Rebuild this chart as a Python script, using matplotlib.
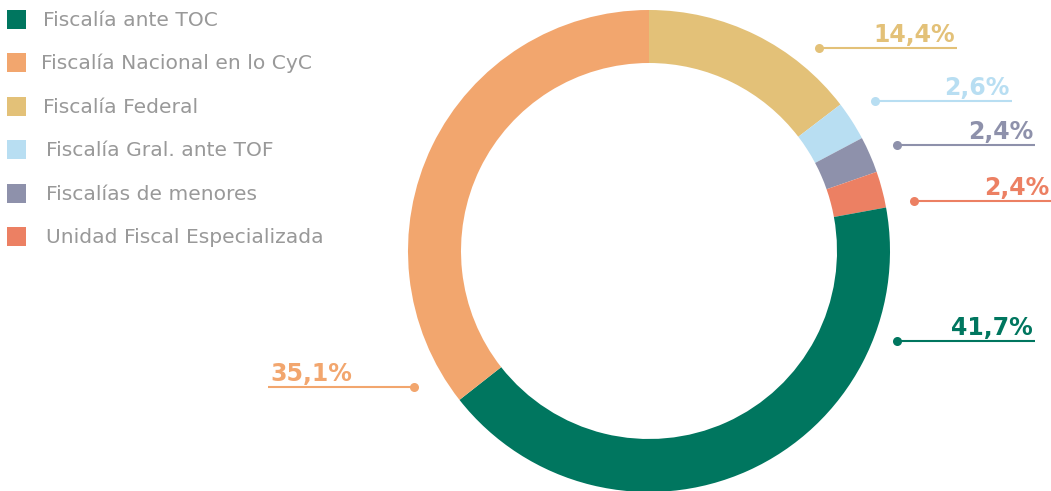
import matplotlib.pyplot as plt

# data
categories = ['Fiscalía ante TOC', 'Fiscalía Nacional en lo CyC', 'Fiscalía Federal',
              'Fiscalía Gral. ante TOF', 'Fiscalías de menores', 'Unidad Fiscal Especializada']
values = [41.7, 35.1, 14.4, 2.6, 2.4, 2.4]
labels = ['41,7%', '35,1%', '14,4%', '2,6%', '2,4%', '2,4%']
colors = ['#00765F', '#F2A66E', '#E3C178', '#B8DEF2', '#8E91AB', '#EC8063']

# order around the ring, clockwise from the top
ring_order = [2, 3, 4, 5, 0, 1]

W, H = 1051, 491
fig = plt.figure(figsize=(W / 100, H / 100), dpi=100)
ax = fig.add_axes([0, 0, 1, 1])

# donut (pie drawn in y-down coords, so counterclock=True reads clockwise on screen)
ax.pie([values[i] for i in ring_order], colors=[colors[i] for i in ring_order],
       center=(649, 251), radius=241, startangle=-90, counterclock=True,
       wedgeprops=dict(width=53, linewidth=0), frame=True)
ax.set_xlim(0, W)
ax.set_ylim(H, 0)
ax.axis('off')

# legend
leg_y = [19.5, 62.5, 106, 149, 193, 236]
leg_tx = [43, 41, 43, 46, 46, 46]
for i, cat in enumerate(categories):
    ax.add_patch(plt.Rectangle((7, leg_y[i] - 9.5), 19, 19, color=colors[i], lw=0))
    ax.text(leg_tx[i], leg_y[i] + 1, cat, color='#999999', fontsize=14.6,
            family='DejaVu Sans', va='center', ha='left')

# leader lines: (dot x, line y, line end x)
lead = {0: (897, 341, 1035), 1: (414, 387, 268), 2: (819, 48, 957),
        3: (875, 101, 1012), 4: (897, 145, 1035), 5: (914, 201, 1051)}
for i, (dx, ly, ex) in lead.items():
    ax.plot([dx, ex], [ly, ly], color=colors[i], lw=1.5, solid_capstyle='butt')
    ax.plot(dx, ly, 'o', color=colors[i], ms=6.5, mec='none')
    if ex > dx:
        ax.text(ex - 2, ly - 6, labels[i], color=colors[i], fontsize=17, fontweight='bold',
                family='DejaVu Sans', ha='right', va='baseline')
    else:
        ax.text(ex + 2, ly - 6, labels[i], color=colors[i], fontsize=17, fontweight='bold',
                family='DejaVu Sans', ha='left', va='baseline')

plt.savefig('out.png', dpi=100)
